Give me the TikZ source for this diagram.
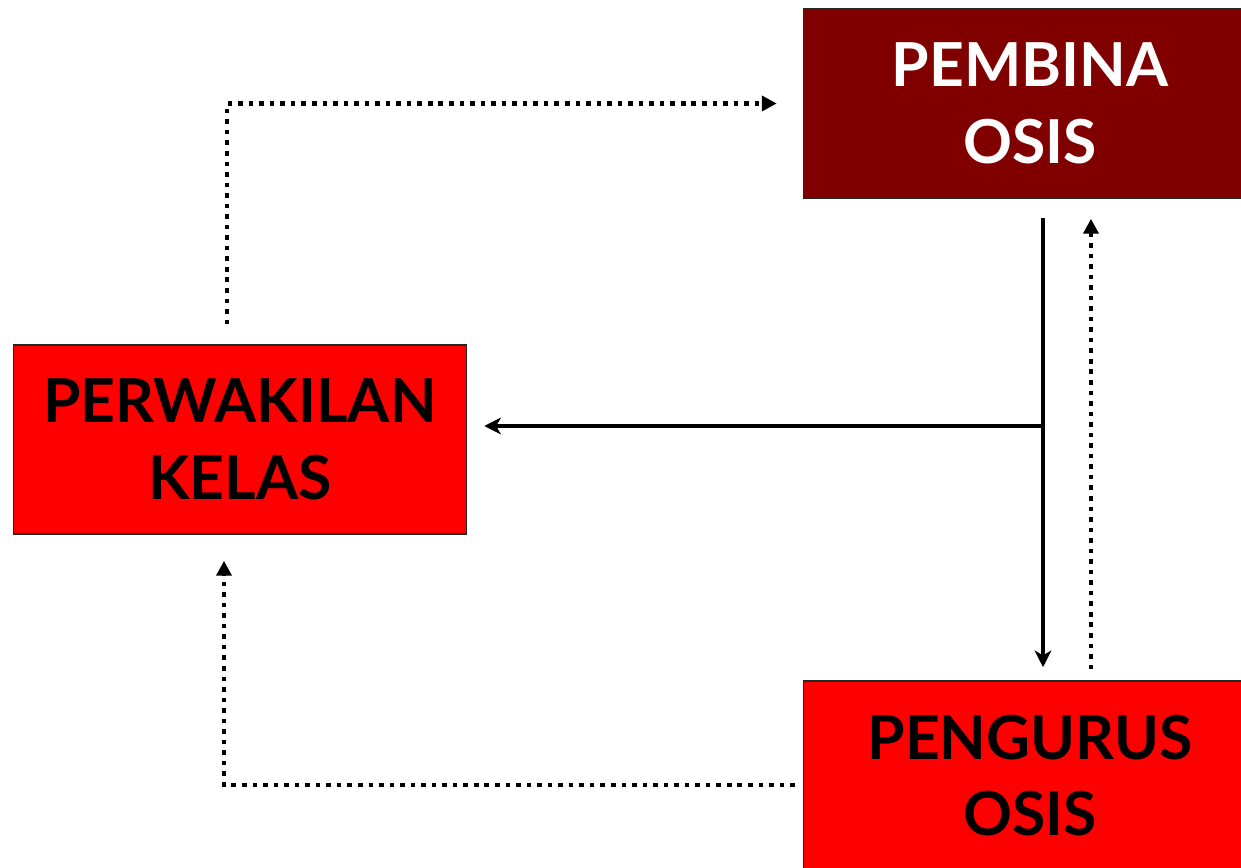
\documentclass[tikz,border=0pt]{standalone}
\usepackage{fontspec}
\setmainfont{Lato}
\usetikzlibrary{arrows.meta}
\definecolor{maroonbox}{RGB}{128,0,0}
\definecolor{redbox}{RGB}{255,0,0}
\tikzset{
    box/.style={draw=black!85, line width=0.9pt, minimum width=9.06cm, minimum height=3.78cm,
        inner sep=0pt, align=center, font=\bfseries\fontsize{34.5}{43.5}\selectfont},
    flow/.style={line width=2.3pt, -{Stealth[length=9.5pt, width=9.5pt, inset=2.8pt]}},
    back/.style={line width=2.6pt, dash pattern=on 2.6pt off 3.4pt,
        -{Triangle[length=8.5pt, width=8.5pt]}}
}
\begin{document}
\begin{tikzpicture}[x=0.02cm, y=-0.02cm]
        \useasboundingbox (0, 0) rectangle (1241, 868);
        % boxes
        \node[box, fill=maroonbox, text=white] (pembina) at (1030, 103.5) {PEMBINA\\OSIS};
        \node[box, fill=redbox] (perwakilan) at (240, 439.5) {PERWAKILAN\\KELAS};
        \node[box, fill=redbox] (pengurus) at (1030, 775.5) {PENGURUS\\OSIS};
        % solid lines
        \coordinate (junction) at (1043, 426);
        \draw[flow, shorten <=0.38cm, shorten >=0.26cm] (pembina.south -| junction) -- (pengurus.north -| junction);
        \draw[flow, shorten >=0.34cm] (junction) -- (perwakilan.east |- junction);
        % dotted lines
        \draw[back, shorten <=0.22cm, shorten >=0.4cm] ([xshift=1.22cm]pengurus.north) -- ([xshift=1.22cm]pembina.south);
        \draw[back, shorten <=0.4cm, shorten >=0.52cm] ([xshift=-0.26cm]perwakilan.north) |- (pembina.west);
        \draw[back, shorten <=0.16cm, shorten >=0.52cm] ([yshift=-0.19cm]pengurus.west) -| ([xshift=-0.32cm]perwakilan.south);
\end{tikzpicture}
\end{document}
